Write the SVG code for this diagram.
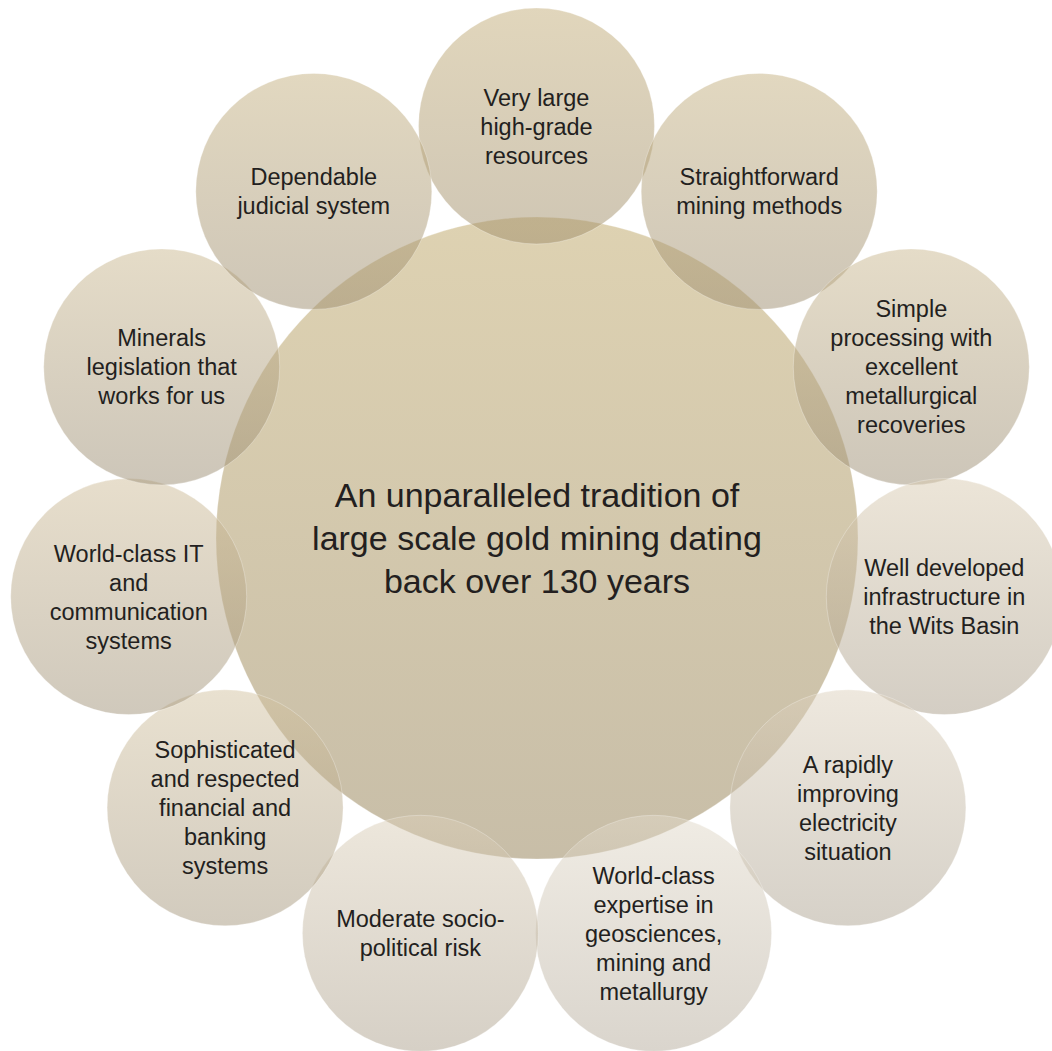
<svg xmlns="http://www.w3.org/2000/svg" width="1052" height="1051" viewBox="0 0 1052 1051">
<defs>
<style>
.c{fill-opacity:0.5;stroke:#ffffff;stroke-opacity:0.35;stroke-width:0.8}
.t{font-family:"Liberation Sans",Arial,sans-serif;font-size:23.5px;fill:#231f20;text-anchor:middle}
.m{font-family:"Liberation Sans",Arial,sans-serif;font-size:34px;fill:#231f20;text-anchor:middle}
</style>
<linearGradient id="g0" x1="0" y1="0" x2="0" y2="1"><stop offset="0" stop-color="rgb(189,165,101)"/><stop offset="1" stop-color="rgb(145,125,81)"/></linearGradient>
<linearGradient id="g1" x1="0" y1="0" x2="0" y2="1"><stop offset="0" stop-color="rgb(195,173,121)"/><stop offset="1" stop-color="rgb(159,141,105)"/></linearGradient>
<linearGradient id="g2" x1="0" y1="0" x2="0" y2="1"><stop offset="0" stop-color="rgb(197,177,129)"/><stop offset="1" stop-color="rgb(157,141,111)"/></linearGradient>
<linearGradient id="g3" x1="0" y1="0" x2="0" y2="1"><stop offset="0" stop-color="rgb(203,185,145)"/><stop offset="1" stop-color="rgb(155,141,115)"/></linearGradient>
<linearGradient id="g4" x1="0" y1="0" x2="0" y2="1"><stop offset="0" stop-color="rgb(217,203,177)"/><stop offset="1" stop-color="rgb(169,157,137)"/></linearGradient>
<linearGradient id="g5" x1="0" y1="0" x2="0" y2="1"><stop offset="0" stop-color="rgb(221,209,189)"/><stop offset="1" stop-color="rgb(173,163,145)"/></linearGradient>
<linearGradient id="g6" x1="0" y1="0" x2="0" y2="1"><stop offset="0" stop-color="rgb(225,217,201)"/><stop offset="1" stop-color="rgb(181,171,155)"/></linearGradient>
<linearGradient id="g7" x1="0" y1="0" x2="0" y2="1"><stop offset="0" stop-color="rgb(219,207,185)"/><stop offset="1" stop-color="rgb(173,161,141)"/></linearGradient>
<linearGradient id="g8" x1="0" y1="0" x2="0" y2="1"><stop offset="0" stop-color="rgb(211,195,161)"/><stop offset="1" stop-color="rgb(165,151,125)"/></linearGradient>
<linearGradient id="g9" x1="0" y1="0" x2="0" y2="1"><stop offset="0" stop-color="rgb(207,189,153)"/><stop offset="1" stop-color="rgb(161,147,121)"/></linearGradient>
<linearGradient id="g10" x1="0" y1="0" x2="0" y2="1"><stop offset="0" stop-color="rgb(203,185,145)"/><stop offset="1" stop-color="rgb(155,141,115)"/></linearGradient>
<linearGradient id="g11" x1="0" y1="0" x2="0" y2="1"><stop offset="0" stop-color="rgb(197,177,129)"/><stop offset="1" stop-color="rgb(157,141,111)"/></linearGradient>
</defs>
<rect width="1052" height="1051" fill="#ffffff"/>
<g id="connectors"></g>
<g id="center">
<circle class="c" cx="537" cy="538" r="321" fill="url(#g0)"/>
<text class="m" x="537" y="507">An unparalleled tradition of</text>
<text class="m" x="537" y="550">large scale gold mining dating</text>
<text class="m" x="537" y="593">back over 130 years</text>
</g>
<g id="n1">
<circle class="c" cx="536.5" cy="126" r="118" fill="url(#g1)"/>
<text class="t" x="536.5" y="105.5">Very large</text>
<text class="t" x="536.5" y="134.5">high-grade</text>
<text class="t" x="536.5" y="163.5">resources</text>
</g>
<g id="n2">
<circle class="c" cx="759.2" cy="191.4" r="118" fill="url(#g2)"/>
<text class="t" x="759.2" y="185.4">Straightforward</text>
<text class="t" x="759.2" y="214.4">mining methods</text>
</g>
<g id="n3">
<circle class="c" cx="911.3" cy="366.9" r="118" fill="url(#g3)"/>
<text class="t" x="911.3" y="317.4">Simple</text>
<text class="t" x="911.3" y="346.4">processing with</text>
<text class="t" x="911.3" y="375.4">excellent</text>
<text class="t" x="911.3" y="404.4">metallurgical</text>
<text class="t" x="911.3" y="433.4">recoveries</text>
</g>
<g id="n4">
<circle class="c" cx="944.3" cy="596.6" r="118" fill="url(#g4)"/>
<text class="t" x="944.3" y="576.1">Well developed</text>
<text class="t" x="944.3" y="605.1">infrastructure in</text>
<text class="t" x="944.3" y="634.1">the Wits Basin</text>
</g>
<g id="n5">
<circle class="c" cx="847.9" cy="807.8" r="118" fill="url(#g5)"/>
<text class="t" x="847.9" y="772.8">A rapidly</text>
<text class="t" x="847.9" y="801.8">improving</text>
<text class="t" x="847.9" y="830.8">electricity</text>
<text class="t" x="847.9" y="859.8">situation</text>
</g>
<g id="n6">
<circle class="c" cx="653.6" cy="933.3" r="118" fill="url(#g6)"/>
<text class="t" x="653.6" y="883.8">World-class</text>
<text class="t" x="653.6" y="912.8">expertise in</text>
<text class="t" x="653.6" y="941.8">geosciences,</text>
<text class="t" x="653.6" y="970.8">mining and</text>
<text class="t" x="653.6" y="999.8">metallurgy</text>
</g>
<g id="n7">
<circle class="c" cx="420.4" cy="933.3" r="118" fill="url(#g7)"/>
<text class="t" x="420.4" y="927.3">Moderate socio-</text>
<text class="t" x="420.4" y="956.3">political risk</text>
</g>
<g id="n8">
<circle class="c" cx="225.1" cy="807.8" r="118" fill="url(#g8)"/>
<text class="t" x="225.1" y="758.3">Sophisticated</text>
<text class="t" x="225.1" y="787.3">and respected</text>
<text class="t" x="225.1" y="816.3">financial and</text>
<text class="t" x="225.1" y="845.3">banking</text>
<text class="t" x="225.1" y="874.3">systems</text>
</g>
<g id="n9">
<circle class="c" cx="128.7" cy="596.6" r="118" fill="url(#g9)"/>
<text class="t" x="128.7" y="561.6">World-class IT</text>
<text class="t" x="128.7" y="590.6">and</text>
<text class="t" x="128.7" y="619.6">communication</text>
<text class="t" x="128.7" y="648.6">systems</text>
</g>
<g id="n10">
<circle class="c" cx="161.7" cy="366.9" r="118" fill="url(#g10)"/>
<text class="t" x="161.7" y="346.4">Minerals</text>
<text class="t" x="161.7" y="375.4">legislation that</text>
<text class="t" x="161.7" y="404.4">works for us</text>
</g>
<g id="n11">
<circle class="c" cx="313.8" cy="191.4" r="118" fill="url(#g11)"/>
<text class="t" x="313.8" y="185.4">Dependable</text>
<text class="t" x="313.8" y="214.4">judicial system</text>
</g>
</svg>
